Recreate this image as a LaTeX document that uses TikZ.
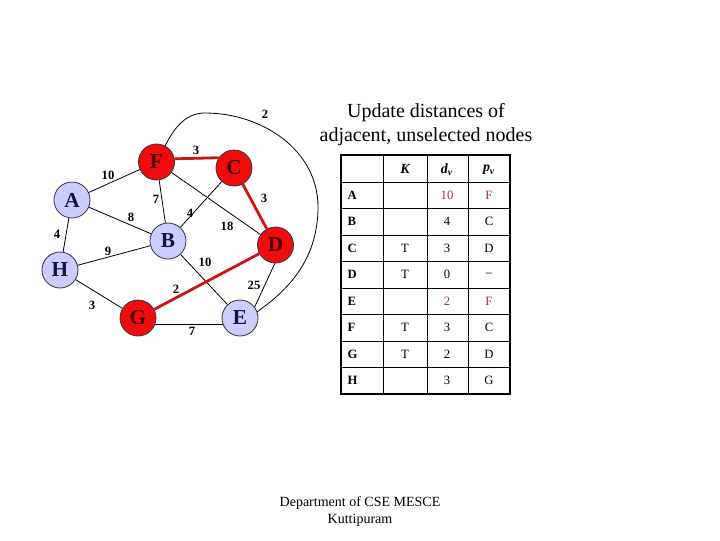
\documentclass[tikz,border=0pt]{standalone}
\usepackage{fontspec}
\setmainfont{Liberation Serif}
\usepackage{tikz}

\begin{document}
\begin{tikzpicture}[x=0.75pt,y=0.75pt,yscale=-1,xscale=1,
  vtx/.style={circle, draw={rgb, 255:red, 50; green, 50; blue, 60}, line width=0.6, minimum size=27pt, inner sep=0pt, font=\fontsize{16}{16}\selectfont\bfseries},
  bluevtx/.style={vtx, fill={rgb, 255:red, 204; green, 204; blue, 255}, text={rgb, 255:red, 20; green, 20; blue, 60}},
  redvtx/.style={vtx, fill={rgb, 255:red, 240; green, 12; blue, 12}, text={rgb, 255:red, 70; green, 0; blue, 0}},
  edge/.style={draw=black, line width=0.6},
  redge/.style={draw={rgb, 255:red, 204; green, 20; blue, 20}, line width=2.1},
  wt/.style={font=\fontsize{9.5}{9.5}\selectfont\bfseries, inner sep=1pt},
  cell/.style={font=\fontsize{9.5}{10}\selectfont, inner sep=1pt},
  rowcell/.style={cell, anchor=west, font=\fontsize{9.5}{10}\selectfont\bfseries},
  redcell/.style={cell, text={rgb, 255:red, 153; green, 51; blue, 51}},
  head/.style={font=\fontsize{10.5}{11}\selectfont\bfseries\itshape, inner sep=1pt}
  ]
\useasboundingbox (0,0) rectangle (720,540);
%Vertices
\node [redvtx] (F) at (156.5,162) {F};
\node [redvtx] (C) at (234,168) {C};
\node [bluevtx] (A) at (72,200) {A};
\node [bluevtx] (B) at (168,241) {B};
\node [redvtx] (D) at (275.5,245) {D};
\node [bluevtx] (H) at (60,270) {H};
\node [redvtx] (G) at (138,318) {G};
\node [bluevtx] (E) at (240,318) {E};
%Edges
\draw [edge] (A) -- (F);
\draw [edge] (A) -- (B);
\draw [edge] (A) -- (H);
\draw [edge] (F) -- (B);
\draw [edge] (F) -- (D);
\draw [edge] (B) -- (C);
\draw [edge] (H) -- (B);
\draw [edge] (H) -- (G);
\draw [edge] (B) -- (E);
\draw [edge] (D.-92) -- (E.37);
\draw [edge] (G.-19) -- (E.199);
%Curve Lines F to E
\coordinate (ctop) at (205,113);
\coordinate (cright) at (318,207);
\draw [edge] (F.62) .. controls (176,124) and (188,113) .. (ctop) .. controls (262,113) and (318,150) .. (cright) .. controls (318,262) and (285,292) .. (E.20);
%Selected path
\draw [redge] (F.10) -- (C.146);
\draw [redge] (C) -- (D);
\draw [redge] (D) -- (G);
%Weights
\node [wt] (wFE) at (265,114) {2};
\node [wt] (wFC) at (196,150) {3};
\node [wt] (wAF) at (108,175) {10};
\node [wt] (wFB) at (156,199) {7};
\node [wt] (wCD) at (264,198) {3};
\node [wt] (wAB) at (131,217) {8};
\node [wt] (wBC) at (190,213) {4};
\node [wt] (wFD) at (227,226) {18};
\node [wt] (wAH) at (57,234) {4};
\node [wt] (wHB) at (108,251) {9};
\node [wt] (wBE) at (205,262) {10};
\node [wt] (wDE) at (254,285) {25};
\node [wt] (wGD) at (176,289) {2};
\node [wt] (wHG) at (92,305) {3};
\node [wt] (wGE) at (192,331) {7};
%Title
\node [align=center, font=\fontsize{15}{18}\selectfont] (title) at (426,125) {Update distances of\\adjacent, unselected nodes};
%Table
\draw [line width=0.6] (341,182) -- (510,182);
\draw [line width=0.6] (341,208.5) -- (510,208.5);
\draw [line width=0.6] (341,235) -- (510,235);
\draw [line width=0.6] (341,261.5) -- (510,261.5);
\draw [line width=0.6] (341,288) -- (510,288);
\draw [line width=0.6] (341,314.5) -- (510,314.5);
\draw [line width=0.6] (341,341) -- (510,341);
\draw [line width=0.6] (341,367.5) -- (510,367.5);
\draw [line width=0.6] (383,155) -- (383,394);
\draw [line width=0.6] (427,155) -- (427,394);
\draw [line width=0.6] (468,155) -- (468,394);
\draw [line width=1.5] (341,155) rectangle (510,394);
\node [head] (hK) at (405,169) {K};
\node [head] (hd) at (447,170) {d\textsubscript{v}};
\node [head] (hp) at (489,170) {p\textsubscript{v}};
\node [rowcell] (rA) at (346,195.2) {A};
\node [redcell] (dA) at (447,195.2) {10};
\node [redcell] (pA) at (489,195.2) {F};
\node [rowcell] (rB) at (346,221.8) {B};
\node [cell] (dB) at (447,221.8) {4};
\node [cell] (pB) at (489,221.8) {C};
\node [rowcell] (rC) at (346,248.2) {C};
\node [cell] (kC) at (405,248.2) {T};
\node [cell] (dC) at (447,248.2) {3};
\node [cell] (pC) at (489,248.2) {D};
\node [rowcell] (rD) at (346,274.8) {D};
\node [cell] (kD) at (405,274.8) {T};
\node [cell] (dD) at (447,274.8) {0};
\node [cell] (pD) at (489,274.8) {--};
\node [rowcell] (rE) at (346,301.2) {E};
\node [redcell] (dE) at (447,301.2) {2};
\node [redcell] (pE) at (489,301.2) {F};
\node [rowcell] (rF) at (346,327.8) {F};
\node [cell] (kF) at (405,327.8) {T};
\node [cell] (dF) at (447,327.8) {3};
\node [cell] (pF) at (489,327.8) {C};
\node [rowcell] (rG) at (346,354.2) {G};
\node [cell] (kG) at (405,354.2) {T};
\node [cell] (dG) at (447,354.2) {2};
\node [cell] (pG) at (489,354.2) {D};
\node [rowcell] (rH) at (346,380.8) {H};
\node [cell] (dH) at (447,380.8) {3};
\node [cell] (pH) at (489,380.8) {G};
%Footer
\node [align=center, font=\fontsize{10.5}{12.8}\selectfont] (foot) at (360,512) {Department of CSE MESCE\\Kuttipuram};
\end{tikzpicture}
\end{document}
